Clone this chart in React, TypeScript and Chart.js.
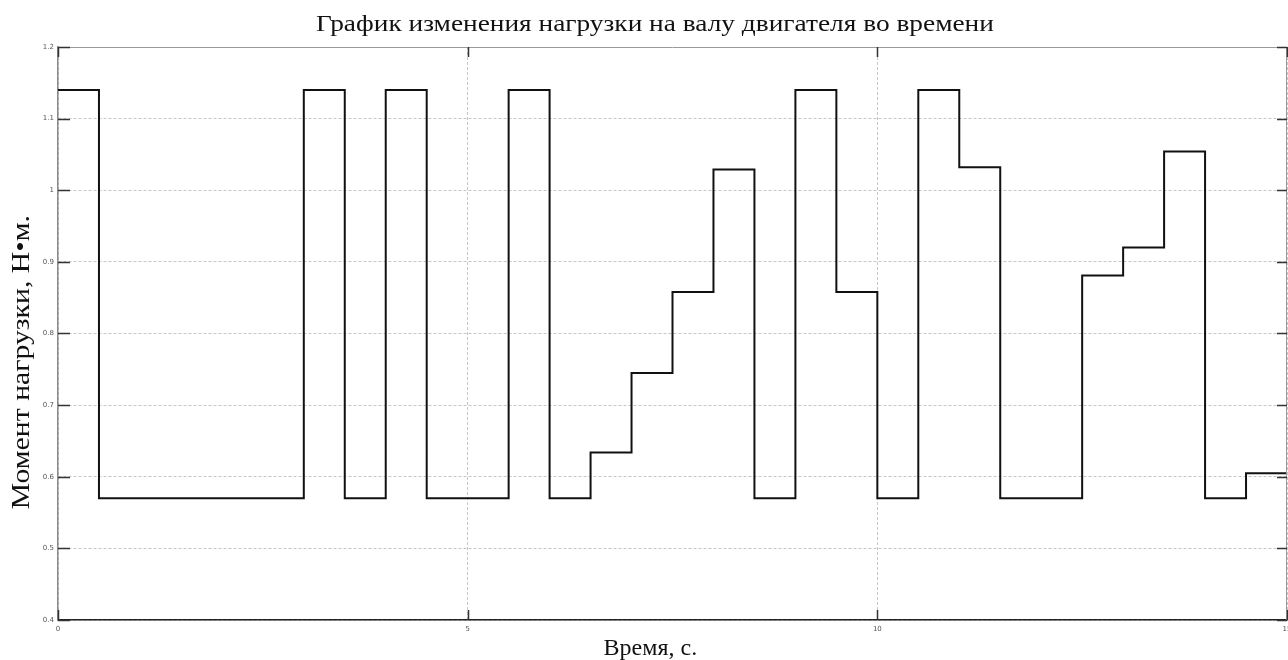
import React, { useEffect, useRef } from "react";
import { Chart, registerables } from "chart.js";

Chart.register(...registerables);

// Step profile of the shaft load: each value holds from its time until the next one.
const times = [0, 0.5, 3.0, 3.5, 4.0, 4.5, 5.5, 6.0, 6.5, 7.0, 7.5, 8.0, 8.5, 9.0, 9.5, 10.0, 10.5, 11.0, 11.5, 12.5, 13.0, 13.5, 14.0, 14.5, 15.0];
const loads = [1.14, 0.57, 1.14, 0.57, 1.14, 0.57, 1.14, 0.57, 0.634, 0.745, 0.858, 1.029, 0.57, 1.14, 0.858, 0.57, 1.14, 1.032, 0.57, 0.881, 0.92, 1.054, 0.57, 0.605, 0.605];

const titleText = "График изменения нагрузки на валу двигателя во времени";
const xTitle = "Время, с.";
const yTitle = "Момент нагрузки, Н•м.";

const SERIF = '"Liberation Serif", "Times New Roman", serif';

// Draws text centred on (cx, cy), optionally rotated and stretched along its length
function drawLabel(ctx: CanvasRenderingContext2D, text: string, cx: number, cy: number, size: number, stretch: number, rotate: boolean) {
  ctx.save();
  ctx.font = `${size}px ${SERIF}`;
  ctx.fillStyle = "#111";
  ctx.textAlign = "center";
  ctx.textBaseline = "middle";
  ctx.translate(cx, cy);
  if (rotate) ctx.rotate(-Math.PI / 2);
  ctx.scale(stretch, 1);
  ctx.fillText(text, 0, 0);
  ctx.restore();
}

// Box frame, inward tick marks, chart title and axis titles
const framePlugin = {
  id: "frameAndTitles",
  afterDraw(chart: any) {
    const { ctx, chartArea } = chart;
    const { left, right, top, bottom } = chartArea;
    const xs = chart.scales.x;
    const ys = chart.scales.y;
    ctx.save();
    ctx.strokeStyle = "#9a9a9a";
    ctx.lineWidth = 1;
    ctx.beginPath();
    ctx.moveTo(left, top + 0.5);
    ctx.lineTo(right, top + 0.5);
    ctx.moveTo(right - 0.5, top);
    ctx.lineTo(right - 0.5, bottom);
    ctx.stroke();

    ctx.strokeStyle = "#333";
    ctx.lineWidth = 1.5;
    ctx.beginPath();
    ys.ticks.forEach((t: any) => {
      const py = Math.round(ys.getPixelForValue(t.value)) + 0.5;
      ctx.moveTo(left, py);
      ctx.lineTo(left + 12, py);
      ctx.moveTo(right - 10, py);
      ctx.lineTo(right, py);
    });
    xs.ticks.forEach((t: any) => {
      const px = Math.round(xs.getPixelForValue(t.value)) + 0.5;
      ctx.moveTo(px, bottom);
      ctx.lineTo(px, bottom - 10);
      ctx.moveTo(px, top);
      ctx.lineTo(px, top + 10);
    });
    ctx.stroke();
    ctx.restore();

    drawLabel(ctx, titleText, 655, 25, 24, 1.14, false);
    drawLabel(ctx, xTitle, left + (right - left) * 0.482, bottom + 29, 24, 1.0, false);
    drawLabel(ctx, yTitle, 22, top + (bottom - top) * 0.55, 25, 1.19, true);
  },
};

export default function App() {
  const canvasRef = useRef<HTMLCanvasElement | null>(null);

  useEffect(() => {
    if (!canvasRef.current) return;
    const chart = new Chart(canvasRef.current, {
      type: "line",
      data: {
        datasets: [
          {
            data: times.map((t, i) => ({ x: t, y: loads[i] })),
            stepped: "before",
            borderColor: "#111",
            borderWidth: 2,
            pointRadius: 0,
            fill: false,
          },
        ],
      },
      options: {
        animation: false,
        responsive: false,
        layout: { padding: { left: 0, right: 1, top: 47, bottom: 0 } },
        plugins: {
          legend: { display: false },
          tooltip: { enabled: false },
          title: { display: false },
        },
        scales: {
          x: {
            type: "linear",
            min: 0,
            max: 15,
            ticks: {
              stepSize: 5,
              padding: 5,
              color: "#555",
              font: { size: 7, family: "DejaVu Sans" },
            },
            grid: { color: "#c6c6c6", lineWidth: 1, drawTicks: false },
            border: { color: "#222", width: 1.5, dash: [3, 2] },
            afterFit: (s: any) => {
              s.height = 40;
              s.paddingRight = 0;
              s.paddingLeft = 0;
            },
          },
          y: {
            min: 0.4,
            max: 1.2,
            ticks: {
              stepSize: 0.1,
              padding: 4,
              color: "#555",
              font: { size: 7, family: "DejaVu Sans" },
              callback: (v: any) => String(Number(Number(v).toFixed(1))),
            },
            grid: { color: "#c6c6c6", lineWidth: 1, drawTicks: false },
            border: { color: "#8a8a8a", width: 1.5, dash: [3, 2] },
            afterFit: (s: any) => {
              s.width = 58;
            },
          },
        },
      },
      plugins: [framePlugin],
    });
    return () => chart.destroy();
  }, []);

  return (
    <div style={{ position: "fixed", left: 0, top: 0, width: 1288, height: 660, background: "#fff" }}>
      <canvas ref={canvasRef} width={1288} height={660} />
    </div>
  );
}
